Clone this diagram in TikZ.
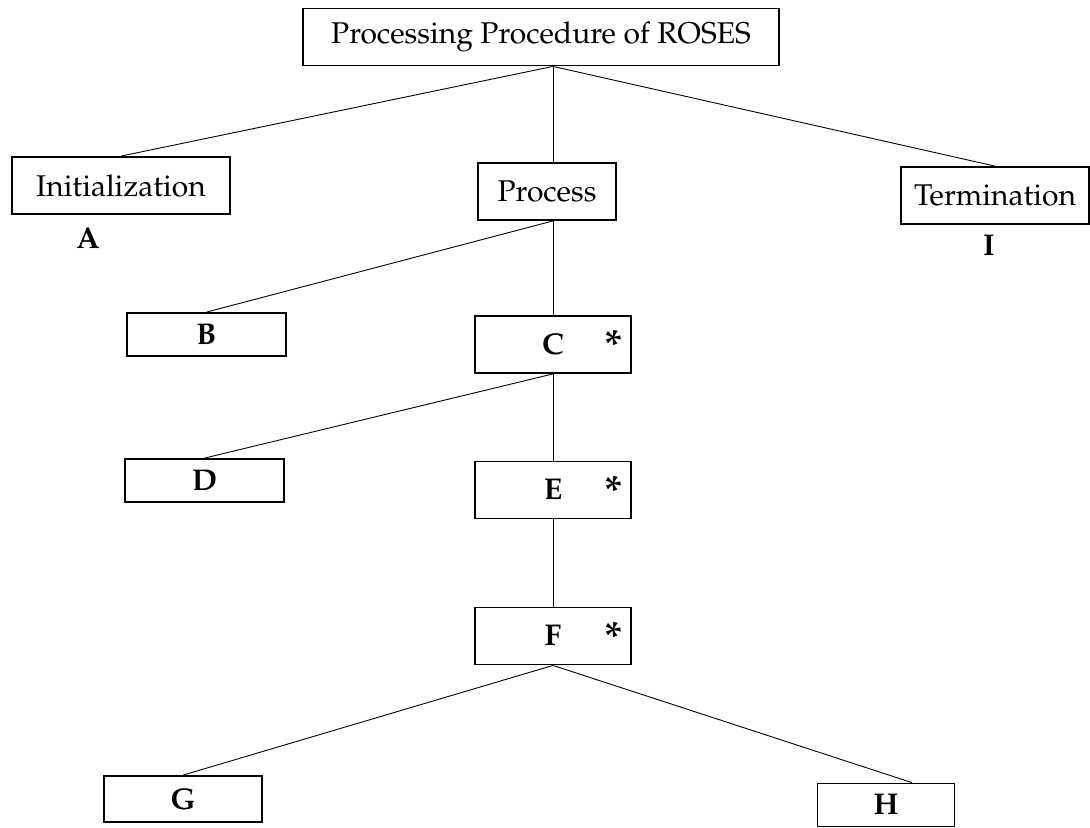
\documentclass[tikz,border=0pt]{standalone}
\usepackage[T1]{fontenc}
\usepackage{mathpazo}

\begin{document}
\begin{tikzpicture}[x=0.5pt,y=-0.5pt,
  every node/.style={font=\fontsize{15}{18}\selectfont},
  box/.style={draw,line width=0.9pt,inner sep=0pt,minimum height=28.5pt},
  lowbox/.style={box,minimum height=21.5pt},
  starmark/.style={font=\fontsize{21}{21}\selectfont\bfseries},
  link/.style={line width=0.45pt}]

\useasboundingbox (0,0) rectangle (1090,827);

\node [box,minimum width=238pt] (root) at (541,37) {Processing Procedure of ROSES};

\node [box,minimum width=109pt] (init) at (121,185.5) {Initialization};
\node [box,minimum width=69pt] (proc) at (547,191.5) {Process};
\node [box,minimum width=94pt] (term) at (995,195.5) {Termination};
\node (labA) at (88,238) {\textbf{A}};
\node (labI) at (989,246) {\textbf{I}};

\node [lowbox,minimum width=79.5pt] (b) at (206.5,334.5) {\textbf{B}};
\node [box,minimum width=78pt] (c) at (553,344.5) {\textbf{C}};
\node [lowbox,minimum width=79.5pt] (d) at (204.5,480.5) {\textbf{D}};
\node [box,minimum width=78pt] (e) at (553,490) {\textbf{E}};
\node [box,minimum width=78pt] (f) at (553,636) {\textbf{F}};
\node [lowbox,minimum width=79pt,minimum height=23pt] (g) at (183,799) {\textbf{G}};
\node [lowbox,minimum width=68.5pt] (h) at (886,805) {\textbf{H}};

% starred steps
\node [starmark] (cstar) at ([xshift=-9pt,yshift=-15pt]c.north east) {*};
\node [starmark] (estar) at ([xshift=-9pt,yshift=-15pt]e.north east) {*};
\node [starmark] (fstar) at ([xshift=-9pt,yshift=-15pt]f.north east) {*};

\draw [link] (root.south -| c.north) -- (init.north);
\draw [link] (root.south -| c.north) -- (proc.north -| c.north);
\draw [link] (root.south -| c.north) -- (term.north);

\draw [link] (proc.south -| c.north) -- (b.north);
\draw [link] (proc.south -| c.north) -- (c.north);

\draw [link] (c.south) -- (d.north);
\draw [link] (c.south) -- (e.north);

\draw [link] (e.south) -- (f.north);

\draw [link] (f.south) -- (g.north);
\draw [link] (f.south) -- ([xshift=13pt]h.north);

\end{tikzpicture}
\end{document}
